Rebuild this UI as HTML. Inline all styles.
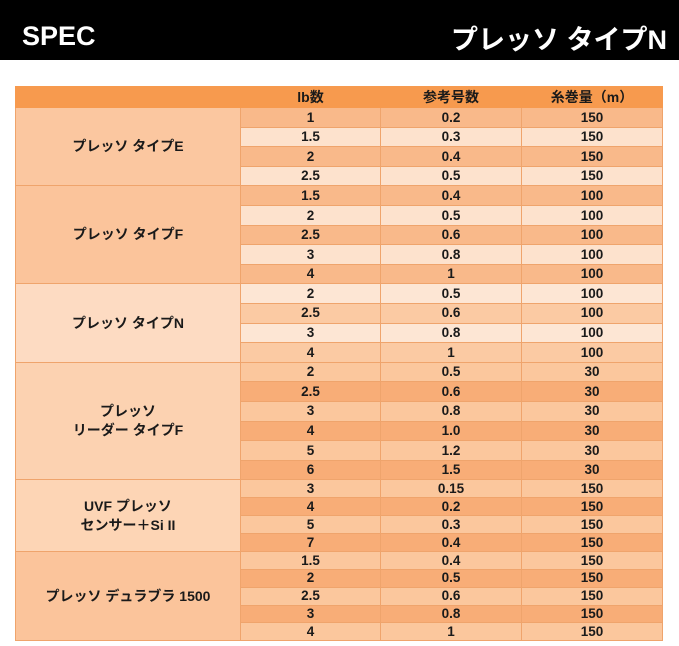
<!DOCTYPE html>
<html><head><meta charset="utf-8"><style>
body{margin:0;width:679px;height:646px;background:#fff;overflow:hidden;font-family:"Liberation Sans","Noto Sans CJK JP",sans-serif;}
.top{position:absolute;left:0;top:0;width:679px;height:60px;background:#000;color:#fff;font-weight:bold;}
.top .tl{position:absolute;left:22px;top:21px;font-size:27px;}
.top .tr{position:absolute;right:12px;top:18px;font-size:27px;}
table{position:absolute;left:15px;top:86px;width:647px;border-collapse:collapse;table-layout:fixed;font-weight:bold;color:#1a1a1a;font-size:13.5px;text-align:center;}
td{padding:0;border:1px solid #efa46c;line-height:1;}
tr.h td{background:#f79a4e;height:20px;font-size:14px;border-color:#f79a4e;}
.g{font-size:14px;line-height:1.35;}
tr.a td{height:18.6px}
tr.b td{height:16.9px}
.d{background:#f9b98a}.l{background:#fde2cd}
.nd{background:#fbcaa3}.nl{background:#fde6d4}
.ld{background:#f8ad77}.ll{background:#fbc79d}
</style></head><body>
<div class="top"><span class="tl">SPEC</span><span class="tr">プレッソ タイプN</span></div>
<table>
<colgroup><col style="width:225px"><col style="width:140px"><col style="width:141px"><col style="width:141px"></colgroup>
<tr class="h"><td></td><td>lb数</td><td>参考号数</td><td>糸巻量（m）</td></tr>
<tr class="a"><td rowspan="4" class="g" style="background:#fbc7a0">プレッソ タイプE</td><td class="d">1</td><td class="d">0.2</td><td class="d">150</td></tr>
<tr class="a"><td class="l">1.5</td><td class="l">0.3</td><td class="l">150</td></tr>
<tr class="a"><td class="d">2</td><td class="d">0.4</td><td class="d">150</td></tr>
<tr class="a"><td class="l">2.5</td><td class="l">0.5</td><td class="l">150</td></tr>
<tr class="a"><td rowspan="5" class="g" style="background:#fbc49b">プレッソ タイプF</td><td class="d">1.5</td><td class="d">0.4</td><td class="d">100</td></tr>
<tr class="a"><td class="l">2</td><td class="l">0.5</td><td class="l">100</td></tr>
<tr class="a"><td class="d">2.5</td><td class="d">0.6</td><td class="d">100</td></tr>
<tr class="a"><td class="l">3</td><td class="l">0.8</td><td class="l">100</td></tr>
<tr class="a"><td class="d">4</td><td class="d">1</td><td class="d">100</td></tr>
<tr class="a"><td rowspan="4" class="g" style="background:#fddbc2">プレッソ タイプN</td><td class="nl">2</td><td class="nl">0.5</td><td class="nl">100</td></tr>
<tr class="a"><td class="nd">2.5</td><td class="nd">0.6</td><td class="nd">100</td></tr>
<tr class="a"><td class="nl">3</td><td class="nl">0.8</td><td class="nl">100</td></tr>
<tr class="a"><td class="nd">4</td><td class="nd">1</td><td class="nd">100</td></tr>
<tr class="a"><td rowspan="6" class="g" style="background:#fcd2b1">プレッソ<br>リーダー タイプF</td><td class="ll">2</td><td class="ll">0.5</td><td class="ll">30</td></tr>
<tr class="a"><td class="ld">2.5</td><td class="ld">0.6</td><td class="ld">30</td></tr>
<tr class="a"><td class="ll">3</td><td class="ll">0.8</td><td class="ll">30</td></tr>
<tr class="a"><td class="ld">4</td><td class="ld">1.0</td><td class="ld">30</td></tr>
<tr class="a"><td class="ll">5</td><td class="ll">1.2</td><td class="ll">30</td></tr>
<tr class="a"><td class="ld">6</td><td class="ld">1.5</td><td class="ld">30</td></tr>
<tr class="b"><td rowspan="4" class="g" style="background:#fdd5b5">UVF プレッソ<br>センサー＋Si II</td><td class="ll">3</td><td class="ll">0.15</td><td class="ll">150</td></tr>
<tr class="b"><td class="ld">4</td><td class="ld">0.2</td><td class="ld">150</td></tr>
<tr class="b"><td class="ll">5</td><td class="ll">0.3</td><td class="ll">150</td></tr>
<tr class="b"><td class="ld">7</td><td class="ld">0.4</td><td class="ld">150</td></tr>
<tr class="b"><td rowspan="5" class="g" style="background:#fbc49b">プレッソ デュラブラ 1500</td><td class="ll">1.5</td><td class="ll">0.4</td><td class="ll">150</td></tr>
<tr class="b"><td class="ld">2</td><td class="ld">0.5</td><td class="ld">150</td></tr>
<tr class="b"><td class="ll">2.5</td><td class="ll">0.6</td><td class="ll">150</td></tr>
<tr class="b"><td class="ld">3</td><td class="ld">0.8</td><td class="ld">150</td></tr>
<tr class="b"><td class="ll">4</td><td class="ll">1</td><td class="ll">150</td></tr>
</table>
</body></html>
